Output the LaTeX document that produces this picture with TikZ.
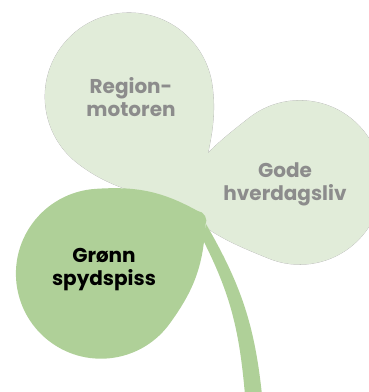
\documentclass[tikz,border=0pt]{standalone}
\usepackage{fontspec}
\setmainfont{Poppins}
\usetikzlibrary{positioning}
\definecolor{leaflight}{HTML}{E1ECD9}
\definecolor{leafdark}{HTML}{AFD098}
\definecolor{labelgrey}{HTML}{8C8C8C}
\tikzset{
  leafpale/.style={fill=leaflight},
  leafrim/.style={draw=black!30, line width=0.6pt},
  leafgreen/.style={fill=leafdark},
  leaflabel/.style={align=center, inner sep=0pt, text=labelgrey,
    font=\fontsize{20}{23}\selectfont\bfseries},
  leaflabeldark/.style={leaflabel, text=black},
}
% tip at (0,0), axis along +x: d, r, phi, tip angle, phi+90
\newcommand{\leafshape}[5]{%
  (0,0) to[out=#4, in=#5] ([shift={(#1,0)}]#3:#2)
  arc[start angle=#3, end angle=-#3, radius=#2]
  to[out=-#5, in=-#4] (0,0) -- cycle}

\begin{document}
\begin{tikzpicture}[x=1pt, y=1pt]
\useasboundingbox (0,0) rectangle (369,-392);
\clip (0,0) rectangle (369,-392);

% pale leaves, rim first then fill over the inner half
\begin{scope}[shift={(199,-218)}, rotate=120]
  \path[leafrim] \leafshape{140}{84}{112}{30}{202};
\end{scope}
\begin{scope}[shift={(175,-200)}, rotate=8]
  \path[leafrim] \leafshape{126}{82}{120}{55}{210};
\end{scope}
\begin{scope}[shift={(199,-218)}, rotate=120]
  \fill[leafpale] \leafshape{140}{84}{112}{30}{202};
\end{scope}
\begin{scope}[shift={(175,-200)}, rotate=8]
  \fill[leafpale] \leafshape{126}{82}{120}{55}{210};
\end{scope}

% stem
\coordinate (stemtl) at (203,-240);
\coordinate (stemtr) at (206,-224);
\coordinate (stembl) at (245,-395);
\coordinate (stembr) at (262,-395);
\fill[leafgreen] (stemtl) to[out=-63, in=95] (stembl) -- (stembr)
  to[out=96, in=-60] (stemtr) -- cycle;

% green leaf, blunt tip
\begin{scope}[shift={(205,-216)}, rotate=209]
  \fill[leafgreen] (4,-8) to[out=150, in=210] (4,8)
    to[out=58, in=205] ([shift={(119,0)}]115:85)
    arc[start angle=115, end angle=-115, radius=85]
    to[out=-205, in=-58] (4,-8) -- cycle;
\end{scope}

\node[leaflabel] (region) at (131,-97) {Region-\\motoren};
\node[leaflabel] (hverdag) at (285,-184) {Gode\\hverdagsliv};
\node[leaflabeldark] (spyd) at (104,-270) {Grønn\\spydspiss};
\end{tikzpicture}
\end{document}
